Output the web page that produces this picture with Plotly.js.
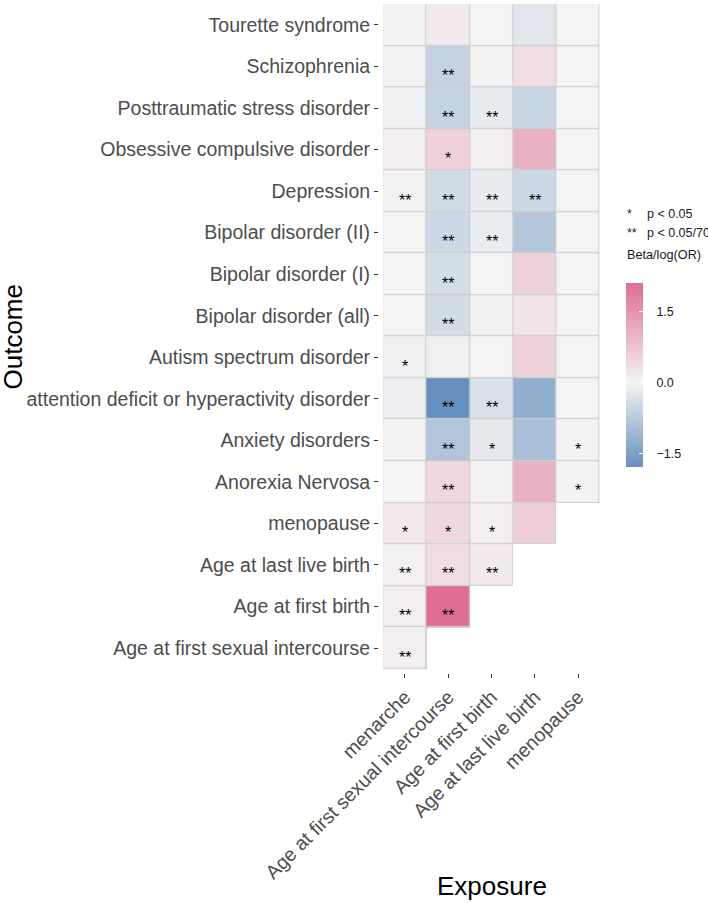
<!DOCTYPE html>
<html>
<head>
<meta charset="utf-8">
<script src="https://cdn.plot.ly/plotly-3.0.1.min.js"></script>
<style>
  html, body { margin: 0; padding: 0; background: #ffffff; }
  #chart { width: 708px; height: 903px; }
</style>
</head>
<body>
<div id="chart"></div>
<script>
// ---------------- data ----------------
var exposures = ["menarche", "Age at first sexual intercourse", "Age at first birth", "Age at last live birth", "menopause"];

var outcomes = [
  "Tourette syndrome",
  "Schizophrenia",
  "Posttraumatic stress disorder",
  "Obsessive compulsive disorder",
  "Depression",
  "Bipolar disorder (II)",
  "Bipolar disorder (I)",
  "Bipolar disorder (all)",
  "Autism spectrum disorder",
  "attention deficit or hyperactivity disorder",
  "Anxiety disorders",
  "Anorexia Nervosa",
  "menopause",
  "Age at last live birth",
  "Age at first birth",
  "Age at first sexual intercourse"
];

// Beta / log(OR), one array per exposure (in outcome order above)
var betaMenarche  = [0.02, 0.02, -0.05, 0.08, -0.03, 0.00, 0.00, 0.00, -0.07, -0.10, -0.02, 0.00, 0.15, 0.05, 0.10, 0.08];
var betaAFS       = [0.15, -0.60, -0.60, 0.55, -0.45, -0.50, -0.40, -0.42, -0.07, -1.78, -0.85, 0.45, 0.45, 0.38, 2.11, null];
var betaAFB       = [0.00, -0.02, -0.15, 0.08, -0.15, -0.12, 0.00, -0.05, 0.00, -0.35, -0.18, 0.04, 0.10, 0.15, null, null];
var betaALB       = [-0.25, 0.35, -0.55, 1.05, -0.50, -0.80, 0.55, 0.25, 0.55, -1.25, -0.95, 1.05, 0.60, null, null, null];
var betaMenopause = [0.00, 0.00, 0.00, 0.00, 0.00, 0.00, 0.00, 0.00, 0.00, 0.00, 0.02, 0.02, null, null, null, null];

// significance marks, one array per exposure
var starsMenarche  = ["", "", "", "", "**", "", "", "", "*", "", "", "", "*", "**", "**", "**"];
var starsAFS       = ["", "**", "**", "*", "**", "**", "**", "**", "", "**", "**", "**", "*", "**", "**", ""];
var starsAFB       = ["", "", "**", "", "**", "**", "", "", "", "**", "*", "", "*", "**", "", ""];
var starsALB       = ["", "", "", "", "**", "", "", "", "", "", "", "", "", "", "", ""];
var starsMenopause = ["", "", "", "", "", "", "", "", "", "", "*", "*", "", "", "", ""];

var legendMarks = ["*", "**"];
var legendTexts = ["p < 0.05", "p < 0.05/70"];
var colorTitle = "Beta/log(OR)";
var colorTickVals = [-1.5, 0, 1.5];
var colorTickText = ["\u22121.5", "0.0", "1.5"];
var zMin = -1.78, zMax = 2.11;

// ---------------- build ----------------
var betaCols  = [betaMenarche, betaAFS, betaAFB, betaALB, betaMenopause];
var starCols  = [starsMenarche, starsAFS, starsAFB, starsALB, starsMenopause];

var z = outcomes.map(function (o, i) {
  return exposures.map(function (e, j) { return betaCols[j][i]; });
});
var zBorder = z.map(function (row) {
  return row.map(function (v) { return v === null ? null : 1; });
});

var FONT = "Liberation Sans, Arial, Helvetica, sans-serif";
var midPos = (0 - zMin) / (zMax - zMin);

var L = 379, R = 604, T = 0, B = 673;
function px2x(p) { return (p - L) / (R - L); }
function py2y(p) { return (B - p) / (B - T); }

var borderTrace = {
  type: "heatmap", x: exposures, y: outcomes, z: zBorder,
  colorscale: [[0, "#cfcfcf"], [1, "#cfcfcf"]], zmin: 0, zmax: 1,
  showscale: false, hoverinfo: "skip"
};

var pad = "\u00a0\u00a0\u00a0";
var heat = {
  type: "heatmap", x: exposures, y: outcomes, z: z,
  xgap: 1.2, ygap: 1.2,
  zmin: zMin, zmax: zMax,
  colorscale: [[0, "#6690BD"], [midPos, "#F4F4F4"], [1, "#DE6E93"]],
  colorbar: {
    x: px2x(625.7), xanchor: "left",
    y: py2y(466.7), yanchor: "bottom",
    thickness: 17, thicknessmode: "pixels",
    len: 184, lenmode: "pixels",
    xpad: 0, ypad: 0, outlinewidth: 0,
    tickmode: "array", tickvals: colorTickVals,
    ticktext: colorTickText.map(function (t) { return pad + t; }),
    ticks: "inside", ticklen: 4, tickcolor: "#ffffff", tickwidth: 1,
    tickfont: { family: FONT, size: 12.5, color: "#1a1a1a" }
  },
  hovertemplate: "%{y} / %{x}: %{z}<extra></extra>"
};

var annotations = [];
exposures.forEach(function (e, j) {
  outcomes.forEach(function (o, i) {
    if (starCols[j][i]) {
      annotations.push({
        x: e, y: o, xref: "x", yref: "y", text: starCols[j][i], showarrow: false,
        xanchor: "center", yanchor: "middle", yshift: -9,
        font: { family: FONT, size: 16, color: "#000000" }
      });
    }
  });
});

var legendY = [214, 233];
legendMarks.forEach(function (m, k) {
  annotations.push({
    xref: "paper", yref: "paper", x: px2x(624.5), y: py2y(legendY[k]),
    xanchor: "left", yanchor: "middle", showarrow: false, text: m,
    font: { family: FONT, size: 12.5, color: "#1a1a1a" }
  });
  annotations.push({
    xref: "paper", yref: "paper", x: px2x(645), y: py2y(legendY[k]),
    xanchor: "left", yanchor: "middle", showarrow: false, text: legendTexts[k],
    font: { family: FONT, size: 12.5, color: "#1a1a1a" }
  });
});
annotations.push({
  xref: "paper", yref: "paper", x: px2x(625), y: py2y(255),
  xanchor: "left", yanchor: "middle", showarrow: false, text: colorTitle,
  font: { family: FONT, size: 12.7, color: "#1a1a1a" }
});
annotations.push({
  xref: "paper", yref: "paper", x: px2x(12), y: py2y(336.5),
  xanchor: "center", yanchor: "middle", showarrow: false, text: "Outcome", textangle: -90,
  font: { family: FONT, size: 26, color: "#000000" }
});
annotations.push({
  xref: "paper", yref: "paper", x: px2x(491.5), y: py2y(886),
  xanchor: "center", yanchor: "middle", showarrow: false, text: "Exposure",
  font: { family: FONT, size: 26, color: "#000000" }
});

var layout = {
  width: 708, height: 903,
  margin: { l: L, r: 708 - R, t: T, b: 903 - B, pad: 0 },
  paper_bgcolor: "#ffffff", plot_bgcolor: "#ffffff",
  font: { family: FONT },
  showlegend: false,
  xaxis: {
    type: "category", range: [-0.6, exposures.length - 0.4],
    showgrid: false, zeroline: false, showline: false,
    ticks: "outside", ticklen: 4, tickwidth: 1, tickcolor: "#333333",
    tickangle: -45, automargin: false,
    tickfont: { family: FONT, size: 19.5, color: "#4D4D4D" }
  },
  yaxis: {
    type: "category", range: [outcomes.length - 0.4, -0.6],
    showgrid: false, zeroline: false, showline: false,
    ticks: "outside", ticklen: 4, tickwidth: 1, tickcolor: "#333333",
    automargin: false,
    tickfont: { family: FONT, size: 19.5, color: "#4D4D4D" }
  },
  annotations: annotations
};

Plotly.newPlot("chart", [borderTrace, heat], layout, { displayModeBar: false, staticPlot: true });
</script>
</body>
</html>
